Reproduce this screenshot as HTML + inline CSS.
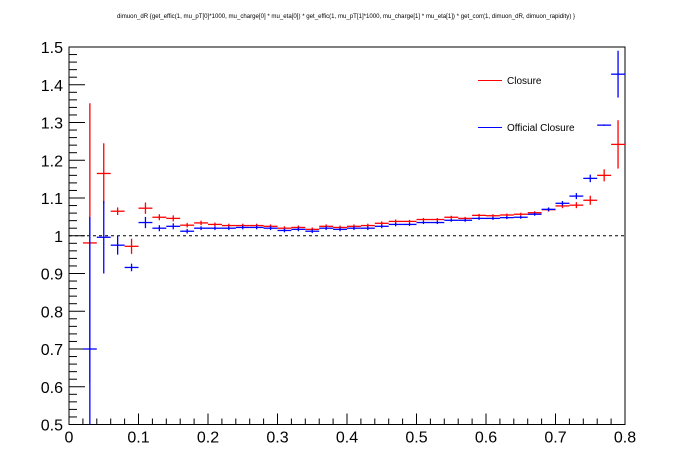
<!DOCTYPE html>
<html><head><meta charset="utf-8"><style>
html,body{margin:0;padding:0;background:#fff;}
svg{display:block;font-family:"Liberation Sans",Arial,sans-serif;}
</style></head><body>
<svg id="chart" width="696" height="472" viewBox="0 0 696 472" xmlns="http://www.w3.org/2000/svg">
<rect x="0" y="0" width="696" height="472" fill="#fff"/>
<text x="117" y="18" font-size="6.2" textLength="458" lengthAdjust="spacingAndGlyphs">dimuon_dR  {get_effic(1, mu_pT[0]*1000, mu_charge[0] *  mu_eta[0]) * get_effic(1, mu_pT[1]*1000, mu_charge[1] *  mu_eta[1]) * get_corr(1, dimuon_dR, dimuon_rapidity) }</text>
<g id="axes"></g>
<g id="marks"></g>
<g>
<line x1="478" y1="80.5" x2="502" y2="80.5" stroke="#f00" stroke-width="1"/>
<text x="507" y="84" font-size="10">Closure</text>
<line x1="478" y1="127.5" x2="502" y2="127.5" stroke="#00f" stroke-width="1"/>
<text x="507" y="131" font-size="10">Official Closure</text>
</g>
</svg>
<script>
const binCenters=[0.03,0.05,0.07,0.09,0.11,0.13,0.15,0.17,0.19,0.21,0.23,0.25,0.27,0.29,0.31,0.33,0.35,0.37,0.39,0.41,0.43,0.45,0.47,0.49,0.51,0.53,0.55,0.57,0.59,0.61,0.63,0.65,0.67,0.69,0.71,0.73,0.75,0.77,0.79];
const closureValues=[0.981,1.165,1.065,0.972,1.073,1.049,1.046,1.028,1.034,1.030,1.027,1.027,1.027,1.025,1.020,1.022,1.017,1.025,1.022,1.025,1.027,1.033,1.038,1.038,1.043,1.043,1.049,1.046,1.054,1.053,1.055,1.057,1.061,1.069,1.079,1.081,1.094,1.160,1.242];
const closureErrors=[0.37,0.08,0.01,0.02,0.015,0.008,0.008,0.006,0.006,0.005,0.005,0.005,0.005,0.005,0.005,0.005,0.005,0.005,0.005,0.005,0.005,0.005,0.005,0.004,0.004,0.004,0.004,0.004,0.004,0.004,0.004,0.004,0.004,0.005,0.006,0.008,0.012,0.016,0.064];
const officialValues=[0.700,0.996,0.975,0.916,1.035,1.020,1.025,1.012,1.020,1.020,1.020,1.022,1.022,1.020,1.014,1.017,1.012,1.020,1.017,1.020,1.020,1.025,1.030,1.030,1.035,1.035,1.041,1.041,1.046,1.046,1.048,1.049,1.057,1.070,1.086,1.105,1.152,1.293,1.428];
const officialErrors=[0.35,0.096,0.025,0.01,0.015,0.008,0.008,0.006,0.005,0.005,0.005,0.005,0.005,0.005,0.005,0.005,0.005,0.005,0.005,0.005,0.005,0.005,0.005,0.004,0.004,0.004,0.004,0.004,0.004,0.004,0.004,0.004,0.004,0.005,0.006,0.008,0.01,0.002,0.062];
const xTicks=[0,0.1,0.2,0.3,0.4,0.5,0.6,0.7,0.8];
const xTickLabels=["0","0.1","0.2","0.3","0.4","0.5","0.6","0.7","0.8"];
const yTicks=[0.5,0.6,0.7,0.8,0.9,1,1.1,1.2,1.3,1.4,1.5];
const yTickLabels=["0.5","0.6","0.7","0.8","0.9","1","1.1","1.2","1.3","1.4","1.5"];
const binWidth=0.02;

const X0=69,X1=625,Y0=424.5,Y1=47;
const xMin=0,xMax=0.8,yMin=0.5,yMax=1.5;
function sx(v){return X0+(v-xMin)/(xMax-xMin)*(X1-X0);}
function sy(v){return Y0-(v-yMin)/(yMax-yMin)*(Y0-Y1);}
const NS="http://www.w3.org/2000/svg";
function mk(tag,attrs,parent){const e=document.createElementNS(NS,tag);for(const k in attrs)e.setAttribute(k,attrs[k]);parent.appendChild(e);return e;}
const axes=document.getElementById('axes');
const marks=document.getElementById('marks');

const frame=mk('rect',{x:X0,y:Y1,width:X1-X0,height:Y0-Y1,fill:'none',stroke:'#000','stroke-width':1},axes);



for(let i=0;i<yTicks.length;i++){
  const y=sy(yTicks[i]);
  const t=mk('line',{x1:X0,y1:y,x2:X0+16,y2:y,stroke:'#000','stroke-width':1},axes);
  
  
  const lb=mk('text',{x:X0-6,y:y+6,'font-size':16,'text-anchor':'end'},axes);
  
  
  lb.textContent=yTickLabels[i];
  if(i<yTicks.length-1){
    for(let j=1;j<5;j++){
      const ym=sy(yTicks[i]+j*(yTicks[i+1]-yTicks[i])/5);
      const m=mk('line',{x1:X0,y1:ym,x2:X0+8,y2:ym,stroke:'#000','stroke-width':1},axes);
      
      
    }
  }
}
for(let i=0;i<xTicks.length;i++){
  const x=sx(xTicks[i]);
  const t=mk('line',{x1:x,y1:Y0,x2:x,y2:Y0-11,stroke:'#000','stroke-width':1},axes);
  
  
  const lb=mk('text',{x:x,y:Y0+18,'font-size':16,'text-anchor':'middle'},axes);
  
  
  lb.textContent=xTickLabels[i];
  if(i<xTicks.length-1){
    for(let j=1;j<5;j++){
      const xm=sx(xTicks[i]+j*(xTicks[i+1]-xTicks[i])/5);
      const m=mk('line',{x1:xm,y1:Y0,x2:xm,y2:Y0-6,stroke:'#000','stroke-width':1},axes);
      
      
    }
  }
}
const ref=mk('line',{x1:X0,y1:sy(1),x2:X1,y2:sy(1),stroke:'#000','stroke-width':1,'stroke-dasharray':'3,3'},axes);



function clampY(v){return Math.max(Y1,Math.min(Y0,v));}
function drawSeries(vals,errs,color,name){
  const g=mk('g',{},marks);
  
  
  for(let i=0;i<binCenters.length;i++){
    const c=binCenters[i],v=vals[i],e=errs[i];
    const y=sy(v);
    const h=mk('line',{x1:sx(c-binWidth/2),y1:y,x2:sx(c+binWidth/2),y2:y,stroke:color,'stroke-width':1.3},g);
    
    
    const eb=mk('line',{x1:sx(c),y1:clampY(sy(v+e)),x2:sx(c),y2:clampY(sy(v-e)),stroke:color,'stroke-width':1.3},g);
    
    
  }
}
drawSeries(closureValues,closureErrors,'#f00','closure');
drawSeries(officialValues,officialErrors,'#00f','official-closure');
</script>
</body></html>
